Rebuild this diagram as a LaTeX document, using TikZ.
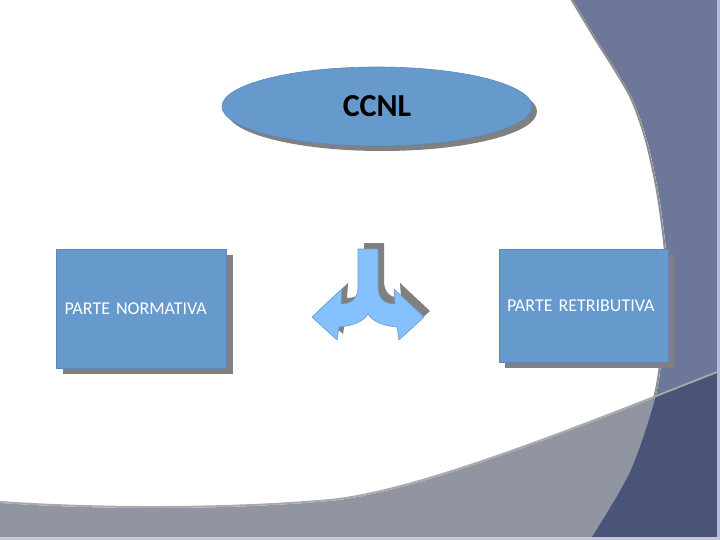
\documentclass[tikz,border=0pt]{standalone}
\usepackage{fontspec}
\setmainfont{Carlito}
\usetikzlibrary{shadows,shapes.geometric}
\definecolor{bandblue}{HTML}{6D7799}
\definecolor{sweepgrey}{HTML}{9195A1}
\definecolor{deepnavy}{HTML}{4A5478}
\definecolor{boxblue}{HTML}{6699CC}
\definecolor{boxline}{HTML}{5C88B8}
\definecolor{shadowgrey}{HTML}{808080}
\definecolor{arrowblue}{HTML}{85C1FF}
\definecolor{arrowline}{HTML}{6C9CC8}
\definecolor{rimgrey}{HTML}{8E8E8E}
\definecolor{stripblue}{HTML}{B5BBD8}
\definecolor{stripgrey}{HTML}{C3C7D7}
\begin{document}
\begin{tikzpicture}[x=1pt,y=-1pt,line join=round,
	partbox/.style={draw=boxline,fill=boxblue,line width=0.6pt,inner xsep=8pt,align=left,
		text=white,font=\fontsize{18}{21}\selectfont,
		drop shadow={shadow xshift=6pt,shadow yshift=-6pt,fill=shadowgrey,opacity=1}},
	topoval/.style={ellipse,draw=boxline,fill=boxblue,line width=0.6pt,
		minimum width=310pt,minimum height=79pt,font=\bfseries\fontsize{32}{36}\selectfont,
		drop shadow={shadow xshift=5pt,shadow yshift=-5pt,fill=shadowgrey,opacity=1}}]
	\useasboundingbox (0,0) rectangle (720,540);
	\fill[white] (0,0) rectangle (720,540);
	% background band and sweep
	\fill[bandblue] plot[smooth] coordinates {(573,0) (597,40) (616,70) (633,100) (647,140) (658,190) (665,240) (668,280) (664,335) (656,395) (630,472) (590,540)} -- (720,540) -- (720,0) -- cycle;
	\draw[rimgrey,line width=2pt,xshift=-1.2pt] plot[smooth] coordinates {(573,0) (597,40) (616,70) (633,100) (647,140) (658,190) (665,240) (668,280) (664,335) (656,395) (630,472) (590,540)};
	\fill[sweepgrey] (0,503) .. controls (100,510) and (230,510) .. (330,501) .. controls (420,492) and (580,427) .. (720,372) -- (720,540) -- (0,540) -- cycle;
	\draw[rimgrey!75,line width=2pt,yshift=1pt] (0,503) .. controls (100,510) and (230,510) .. (330,501) .. controls (420,492) and (580,427) .. (720,372);
	\begin{scope}
		\clip plot[smooth] coordinates {(573,0) (597,40) (616,70) (633,100) (647,140) (658,190) (665,240) (668,280) (664,335) (656,395) (630,472) (590,540)} -- (720,540) -- (720,0) -- cycle;
		\fill[deepnavy] (0,503) .. controls (100,510) and (230,510) .. (330,501) .. controls (420,492) and (580,427) .. (720,372) -- (720,540) -- (0,540) -- cycle;
	\end{scope}
	\fill[stripblue] (717,0) rectangle (720,540);
	\fill[stripgrey] (0,537) rectangle (720,540);
	% nodes
	\node[topoval] (ccnl) at (377,106.5) {CCNL};
	\node[partbox,text width=154pt,minimum height=119pt] (norm) at (141.5,308.5) {PARTE NORMATIVA};
	\node[partbox,text width=153pt,minimum height=113pt] (retr) at (583.5,305.5) {PARTE RETRIBUTIVA};
	% split arrow
	\fill[shadowgrey,shift={(6,-6)}] (358,249) -- (358,287) .. controls (358,298) and (352,304) .. (341,304) -- (342,289) -- (312,317) -- (337,340) -- (339,327) .. controls (352,326) and (363,322) .. (368,314) .. controls (373,322) and (384,326) .. (397,327) -- (399,340) -- (424,317) -- (394,289) -- (395,304) .. controls (384,304) and (378,298) .. (378,287) -- (378,249) -- cycle;
	\draw[arrowline,fill=arrowblue,line width=0.6pt] (358,249) -- (358,287) .. controls (358,298) and (352,304) .. (341,304) -- (342,289) -- (312,317) -- (337,340) -- (339,327) .. controls (352,326) and (363,322) .. (368,314) .. controls (373,322) and (384,326) .. (397,327) -- (399,340) -- (424,317) -- (394,289) -- (395,304) .. controls (384,304) and (378,298) .. (378,287) -- (378,249) -- cycle;
\end{tikzpicture}
\end{document}
